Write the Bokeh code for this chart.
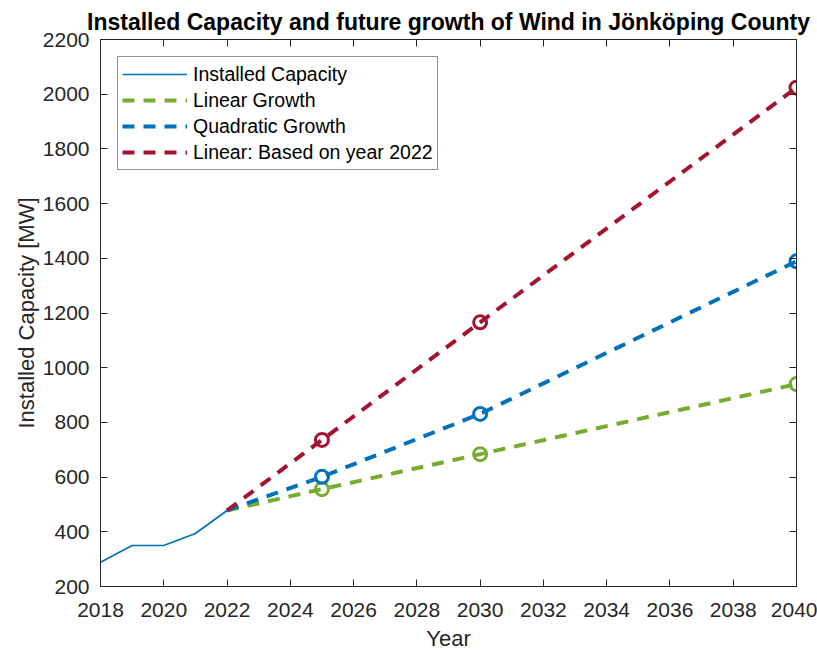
from bokeh.plotting import figure
from bokeh.models import (Legend, LegendItem, LinearAxis, FixedTicker, Range1d,
                          CustomLabelingPolicy)
from bokeh.embed import file_html
from bokeh.resources import INLINE

# Installed wind capacity (MW) in Jönköping County
years_hist = [2018, 2019, 2020, 2021, 2022]
installed_mw = [289, 350, 350, 394, 478]

# Projections starting from 2022
proj_years = [2022, 2025, 2030, 2040]
linear_growth = [478, 556, 684, 940]
quadratic_growth = [478, 601, 831, 1389]
linear_2022 = [478, 736, 1166, 2024]

x_ticks = list(range(2018, 2041, 2))
y_ticks = list(range(200, 2201, 200))

BLUE = "#0072BD"
GREEN = "#77AC30"
RED = "#A2142F"
AXIS = "#262626"
FONT = "Liberation Sans"

p = figure(
    width=817, height=653,
    output_backend="svg", toolbar_location=None,
    x_range=Range1d(2018, 2040), y_range=Range1d(200, 2200),
    min_border_left=100, min_border_right=21,
    min_border_top=39, min_border_bottom=66,
    x_axis_label="Year", y_axis_label="Installed Capacity [MW]",
)

p.title.text = "Installed Capacity and future growth of Wind in Jönköping County"
p.title.align = "center"
p.title.text_font = FONT
p.title.text_font_size = "23px"
p.title.text_font_style = "bold"
p.title.text_color = "black"
p.title.standoff = 2

p.xgrid.visible = False
p.ygrid.visible = False
p.outline_line_color = AXIS
p.outline_line_width = 1
p.background_fill_color = "white"
p.border_fill_color = "white"

# Box-style axes: ticks pointing inward on all four sides
p.add_layout(LinearAxis(), "above")
p.add_layout(LinearAxis(), "right")
for ax in p.axis:
    ax.axis_line_color = AXIS
    ax.axis_line_width = 1
    ax.major_tick_line_color = AXIS
    ax.major_tick_in = 7
    ax.major_tick_out = 0
    ax.minor_tick_line_color = None
    ax.major_label_text_font = FONT
    ax.major_label_text_font_size = "21px"
    ax.major_label_text_color = AXIS
    ax.axis_label_text_font = FONT
    ax.axis_label_text_font_size = "22px"
    ax.axis_label_text_font_style = "normal"
    ax.axis_label_text_color = AXIS

for ax in p.xaxis:
    ax.ticker = FixedTicker(ticks=x_ticks)
for ax in p.yaxis:
    ax.ticker = FixedTicker(ticks=y_ticks)

bottom_axis = p.below[0]
left_axis = p.left[0]
bottom_axis.major_label_standoff = 16
bottom_axis.axis_label_standoff = 6
left_axis.major_label_standoff = 11
left_axis.axis_label_standoff = 1

# The top and right axes only carry tick marks, no labels
hide_all = CustomLabelingPolicy(code="""
    const all = [];
    for (const i of indices) all.push(i);
    for (const i of all) indices.unset(i);
""")
for ax in (p.above[0], p.right[0]):
    ax.major_label_policy = hide_all
    ax.major_label_text_font_size = "1px"
    ax.major_label_standoff = 0

# Lines
r_inst = p.line(years_hist, installed_mw, line_color=BLUE, line_width=1.7)
r_lin = p.line(proj_years, linear_growth, line_color=GREEN, line_width=4,
               line_dash="12 9")
r_quad = p.line(proj_years, quadratic_growth, line_color=BLUE, line_width=4,
                line_dash="12 9")
r_red = p.line(proj_years, linear_2022, line_color=RED, line_width=4,
               line_dash="12 9")

# Circle markers on the projection years (after the 2022 start)
for vals, col in ((linear_growth, GREEN), (quadratic_growth, BLUE), (linear_2022, RED)):
    p.scatter(proj_years[1:], vals[1:], marker="circle", size=13,
              fill_color=None, line_color=col, line_width=3)

legend = Legend(
    items=[
        LegendItem(label="Installed Capacity", renderers=[r_inst]),
        LegendItem(label="Linear Growth", renderers=[r_lin]),
        LegendItem(label="Quadratic Growth", renderers=[r_quad]),
        LegendItem(label="Linear: Based on year 2022", renderers=[r_red]),
    ],
    location="top_left", margin=17, padding=4, spacing=0,
    glyph_width=65, glyph_height=26, label_height=26, label_standoff=6,
    border_line_color=AXIS, border_line_width=1,
    background_fill_color="white", background_fill_alpha=1,
    label_text_font=FONT, label_text_font_size="19.5px", label_text_color="black",
)
p.add_layout(legend)

open("out.html", "w").write(file_html(p, INLINE))
